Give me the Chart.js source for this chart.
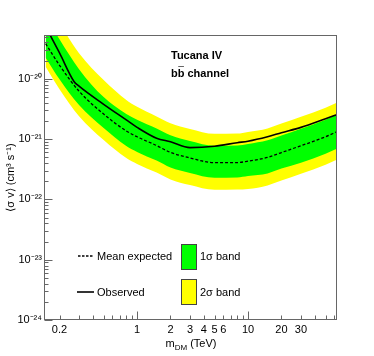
<!DOCTYPE html>
<html><head><meta charset="utf-8">
<script src="https://cdn.jsdelivr.net/npm/chart.js@4"></script>
<style>html,body{margin:0;padding:0;background:#fff}#wrap{width:374px;height:356px}</style>
</head><body><div id="wrap"><canvas id="c" width="374" height="356"></canvas></div>
<script>
// ---- data ----
const massTeV      = [0.15, 0.2, 0.3, 0.5, 0.8, 1, 1.5, 2, 3, 5, 8, 10, 15, 20, 30, 50, 63];
const meanExpected = [3.8e-20,1.67e-20,6.2e-21,2.59e-21,1.36e-21,1.09e-21,7.8e-22,6.0e-22,4.86e-22,4.05e-22,4.07e-22,4.3e-22,4.95e-22,5.97e-22,7.74e-22,1.09e-21,1.32e-21];
const band1Upper   = [1.11e-19,4.5e-20,1.44e-20,4.95e-21,2.6e-21,2.08e-21,1.49e-21,1.15e-21,9.3e-22,7.74e-22,7.8e-22,8.26e-22,9.5e-22,1.14e-21,1.48e-21,2.09e-21,2.53e-21];
const band1Lower   = [2.23e-20,9.8e-21,3.65e-21,1.52e-21,7.66e-22,6.12e-22,4.4e-22,3.38e-22,2.74e-22,2.28e-22,2.3e-22,2.43e-22,2.69e-22,3.24e-22,4.05e-22,5.7e-22,6.9e-22];
const band2Upper   = [2.04e-19,8.3e-20,2.65e-20,9.5e-21,4.44e-21,3.42e-21,2.36e-21,1.82e-21,1.47e-21,1.22e-21,1.23e-21,1.31e-21,1.5e-21,1.81e-21,2.34e-21,3.3e-21,4.0e-21];
const band2Lower   = [1.58e-20,6.7e-21,2.39e-21,9.6e-22,4.84e-22,3.87e-22,2.78e-22,2.14e-22,1.73e-22,1.44e-22,1.45e-22,1.48e-22,1.7e-22,2.05e-22,2.66e-22,3.75e-22,4.54e-22];
const massObs      = [0.15, 0.2, 0.27, 0.3, 0.5, 0.8, 1, 1.5, 2, 3, 5, 8, 10, 15, 20, 30, 50, 63];
const observed     = [7.3e-20,2.67e-20,9.0e-21,7.5e-21,3.76e-21,2.07e-21,1.56e-21,1.03e-21,9.0e-22,7.2e-22,7.6e-22,8.7e-22,9.2e-22,1.09e-21,1.27e-21,1.56e-21,2.17e-21,2.53e-21];
const xTickLabels  = [0.2, 1, 2, 3, 4, 5, 6, 10, 20, 30];
const xMajorTicks  = [1, 10];
const xTickValues  = [0.2,0.3,0.4,0.5,0.6,0.7,0.8,0.9,1,2,3,4,5,6,7,8,9,10,20,30,40,50,60];
const yDecades     = [-24, -23, -22, -21, -20];
const xRange = [0.148, 63.4];
const yRange = [1e-24, 5.3e-20];
const textLines = ['Tucana IV', 'bb channel'];
const legendLabels = ['Mean expected', 'Observed', '1σ band', '2σ band'];

const toXY = (xs, ys) => xs.map((x, i) => ({x, y: ys[i]}));
const SUP = {'-':'⁻','0':'⁰','1':'¹','2':'²','3':'³','4':'⁴','5':'⁵','6':'⁶','7':'⁷','8':'⁸','9':'⁹'};
const sup = s => String(s).split('').map(c => SUP[c]).join('');
const FONT = "'Liberation Sans', Arial, Helvetica, sans-serif";
Chart.defaults.font.family = FONT;
Chart.defaults.font.size = 11;
Chart.defaults.color = '#000';

const yTickValues = [];
yDecades.forEach(d => { for (let k = 1; k <= 9; k++) { const v = k * Math.pow(10, d); if (v <= yRange[1] * 1.0001) yTickValues.push({v, major: k === 1, d}); } });

const deco = {
  id: 'deco',
  afterDatasetsDraw(chart) {
    const {ctx, chartArea: a, scales: {x, y}} = chart;
    ctx.save();
    ctx.strokeStyle = '#666'; ctx.lineWidth = 1;
    const L = Math.round(a.left) - 0.5, R = Math.round(a.right) - 0.5, T = Math.round(a.top) + 0.5, B = Math.round(a.bottom) - 0.5;
    ctx.strokeRect(L, T, R - L, B - T);
    ctx.beginPath();
    x.ticks.forEach(t => {
      const px = Math.round(x.getPixelForValue(t.value)) + 0.5;
      const len = xMajorTicks.includes(t.value) ? 8 : 4;
      ctx.moveTo(px, B); ctx.lineTo(px, B - len);
    });
    y.ticks.forEach(t => {
      const py = Math.round(y.getPixelForValue(t.value)) + 0.5;
      const len = t.major ? 8 : 4;
      ctx.moveTo(L, py); ctx.lineTo(L + len, py);
    });
    ctx.stroke();

    // annotation text
    ctx.fillStyle = '#000';
    ctx.font = 'bold 11px ' + FONT;
    ctx.textBaseline = 'alphabetic'; ctx.textAlign = 'left';
    ctx.fillText(textLines[0], 171, 59);
    ctx.fillText(textLines[1], 171, 77);
    const wb = ctx.measureText('b').width;
    ctx.beginPath(); ctx.lineWidth = 1;
    ctx.moveTo(171 + wb + 0.5, 66.5); ctx.lineTo(171 + 2 * wb - 0.5, 66.5); ctx.stroke();

    // legend
    ctx.font = '11px ' + FONT;
    ctx.textBaseline = 'middle';
    ctx.strokeStyle = '#000';
    ctx.lineWidth = 1.3; ctx.setLineDash([2.5, 1.5]);
    ctx.beginPath(); ctx.moveTo(78, 256); ctx.lineTo(93, 256); ctx.stroke();
    ctx.setLineDash([]); ctx.lineWidth = 1.6;
    ctx.beginPath(); ctx.moveTo(77, 292); ctx.lineTo(94, 292); ctx.stroke();
    ctx.fillText(legendLabels[0], 97, 256.5);
    ctx.fillText(legendLabels[1], 97, 292.5);
    ctx.lineWidth = 1; ctx.strokeStyle = '#444';
    ctx.fillStyle = '#00ff00'; ctx.fillRect(181, 244, 15, 25); ctx.strokeRect(181.5, 244.5, 15, 25);
    ctx.fillStyle = '#ffff00'; ctx.fillRect(181, 279, 15, 25); ctx.strokeRect(181.5, 279.5, 15, 25);
    ctx.fillStyle = '#000';
    ctx.fillText(legendLabels[2], 200, 256.5);
    ctx.fillText(legendLabels[3], 200, 292.5);

    // x-axis title with subscript
    const cx = (a.left + a.right) / 2, by = 347;
    ctx.textBaseline = 'alphabetic';
    ctx.font = '11px ' + FONT; const w1 = ctx.measureText('m').width, w3 = ctx.measureText(' (TeV)').width;
    ctx.font = '8px ' + FONT; const w2 = ctx.measureText('DM').width;
    let sx = cx - (w1 + w2 + w3) / 2;
    ctx.font = '11px ' + FONT; ctx.fillText('m', sx, by); sx += w1;
    ctx.font = '8px ' + FONT; ctx.fillText('DM', sx, by + 2.5); sx += w2;
    ctx.font = '11px ' + FONT; ctx.fillText(' (TeV)', sx, by);
    ctx.restore();
  }
};

const lineDs = (label, xs, ys, opts) => Object.assign({
  label, data: toXY(xs, ys), pointRadius: 0, borderColor: 'rgba(0,0,0,0)', borderWidth: 1,
  fill: false, cubicInterpolationMode: 'monotone'
}, opts);

new Chart(document.getElementById('c'), {
  type: 'line',
  data: {
    datasets: [
      lineDs('Observed', massObs, observed, {borderColor: '#000', borderWidth: 1.6}),
      lineDs('Mean expected', massTeV, meanExpected, {borderColor: '#000', borderWidth: 1.3, borderDash: [3, 2]}),
      lineDs('1σ upper', massTeV, band1Upper, {fill: '+1', backgroundColor: '#00ff00'}),
      lineDs('1σ lower', massTeV, band1Lower, {}),
      lineDs('2σ upper', massTeV, band2Upper, {fill: '+1', backgroundColor: '#ffff00'}),
      lineDs('2σ lower', massTeV, band2Lower, {})
    ]
  },
  options: {
    responsive: false, animation: false, devicePixelRatio: 1,
    layout: {padding: {top: 35, right: 37, left: 0, bottom: 0}},
    plugins: {legend: {display: false}, tooltip: {enabled: false}},
    scales: {
      x: {
        type: 'logarithmic', position: 'bottom', min: xRange[0], max: xRange[1],
        grid: {display: false, drawTicks: false}, border: {display: false},
        afterBuildTicks: s => { s.ticks = xTickValues.map(v => ({value: v})); },
        afterFit: s => { s.height = 36; },
        ticks: {autoSkip: false, maxRotation: 0, padding: 3, font: {size: 11},
          callback: v => xTickLabels.includes(v) ? String(v) : ''}
      },
      y: {
        type: 'logarithmic', position: 'left', min: yRange[0], max: yRange[1],
        grid: {display: false, drawTicks: false}, border: {display: false},
        afterBuildTicks: s => { s.ticks = yTickValues.map(t => ({value: t.v, major: t.major, d: t.d})); },
        afterFit: s => { s.width = 45; },
        ticks: {autoSkip: false, padding: 3, font: {size: 11},
          callback: (v, i, ticks) => ticks[i].major ? '10' + sup(ticks[i].d) : ''},
        title: {display: true, text: '⟨σ v⟩ (cm³ s⁻¹)', font: {size: 11}, padding: {top: 4, bottom: 0}}
      }
    }
  },
  plugins: [deco]
});
</script></body></html>
